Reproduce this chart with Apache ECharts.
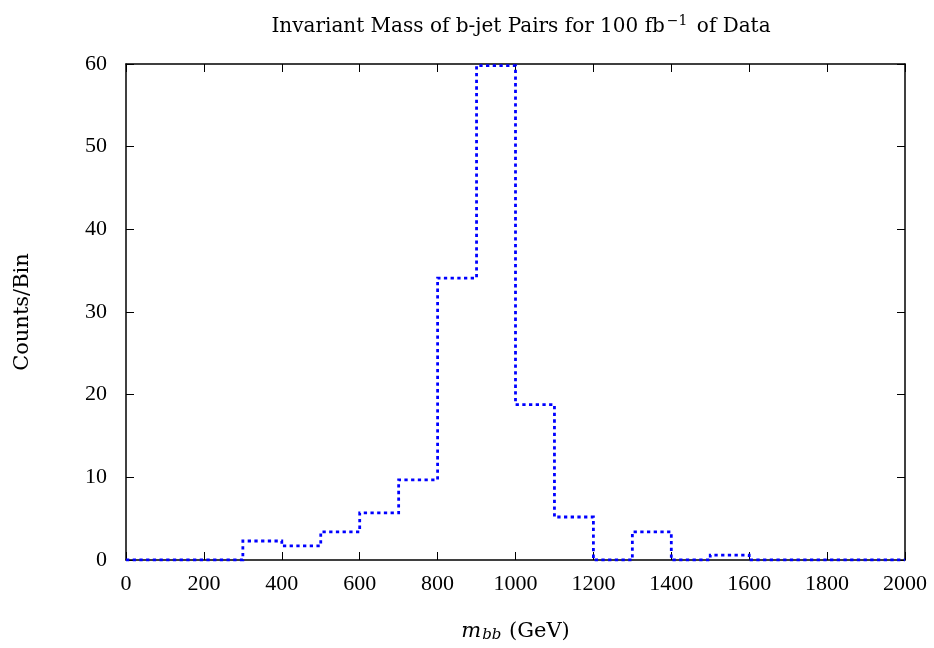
<!DOCTYPE html>
<html>
<head>
<meta charset="utf-8">
<script src="https://cdn.jsdelivr.net/npm/echarts@6/dist/echarts.min.js"></script>
<style>
html,body{margin:0;padding:0;background:#fff;}
#chart{width:934px;height:648px;}
</style>
</head>
<body>
<div id="chart"></div>
<script>
// Histogram bin left edges (GeV)
var binStarts = [0,100,200,300,400,500,600,700,800,900,1000,1100,1200,1300,1400,1500,1600,1700,1800,1900];
var binEnd = 2000;
// Counts per bin
var counts = [0,0,0,2.3,1.7,3.4,5.7,9.7,34.1,59.8,18.8,5.2,0,3.4,0,0.6,0,0,0,0];
// Axis tick settings
var xTicks = {min:0, max:2000, interval:200};
var yTicks = {min:0, max:60, interval:10};

var stepData = binStarts.map(function(x,i){ return [x, counts[i]]; });
stepData.push([binEnd, counts[counts.length-1]]);

var NUMFONT = 'Liberation Serif';
var TXTFONT = 'DejaVu Serif';
var chart = echarts.init(document.getElementById('chart'), null, {renderer:'canvas'});
var axisLine = {show:true, onZero:false, lineStyle:{color:'#000', width:1.5}};
var tickStyle = {show:true, inside:true, length:8, lineStyle:{color:'#000', width:1}};
var plain = function(v){ return String(v); };
chart.setOption({
  animation:false,
  backgroundColor:'#fff',
  title:{
    left:516, top:8, textAlign:'center',
    text:'{a|Invariant Mass of b-jet Pairs for 100 fb}{s|−1}{a| of Data}',
    textStyle:{
      fontWeight:'normal',
      rich:{
        a:{fontFamily:TXTFONT, fontSize:20, fontWeight:'normal', color:'#000', lineHeight:28},
        s:{fontFamily:TXTFONT, fontSize:14, fontWeight:'normal', color:'#000', lineHeight:28, padding:[0,3,11,2]}
      }
    }
  },
  grid:{left:126, right:29, top:64, bottom:87, containLabel:false},
  xAxis:[{
    type:'value', min:xTicks.min, max:xTicks.max, interval:xTicks.interval,
    position:'bottom',
    axisLine:axisLine, axisTick:tickStyle, splitLine:{show:false},
    axisLabel:{fontFamily:NUMFONT, fontSize:22, color:'#000', margin:13, formatter:plain},
    name:'{i|m}{sub|bb}{a| (GeV)}', nameLocation:'middle', nameGap:60,
    nameTextStyle:{
      rich:{
        i:{fontFamily:TXTFONT, fontStyle:'italic', fontSize:21, color:'#000'},
        sub:{fontFamily:TXTFONT, fontStyle:'italic', fontSize:15, color:'#000', padding:[8,1,0,1]},
        a:{fontFamily:TXTFONT, fontSize:21, color:'#000'}
      }
    }
  },{
    type:'value', min:xTicks.min, max:xTicks.max, interval:xTicks.interval,
    position:'top',
    axisLine:axisLine, axisTick:tickStyle, axisLabel:{show:false}, splitLine:{show:false}
  }],
  yAxis:[{
    type:'value', min:yTicks.min, max:yTicks.max, interval:yTicks.interval,
    position:'left',
    axisLine:axisLine, axisTick:tickStyle, splitLine:{show:false},
    axisLabel:{fontFamily:NUMFONT, fontSize:22, color:'#000', margin:19, formatter:plain},
    name:'Counts/Bin', nameLocation:'middle', nameGap:93, nameRotate:90,
    nameTextStyle:{fontFamily:TXTFONT, fontSize:21, color:'#000'}
  },{
    type:'value', min:yTicks.min, max:yTicks.max, interval:yTicks.interval,
    position:'right',
    axisLine:axisLine, axisTick:tickStyle, axisLabel:{show:false}, splitLine:{show:false}
  }],
  series:[{
    type:'line', step:'end', data:stepData, xAxisIndex:0, yAxisIndex:0,
    showSymbol:false, symbol:'none', z:5,
    lineStyle:{color:'#0000ff', width:2.8, type:[3.3,3.4], cap:'butt', join:'miter'}
  }]
});
</script>
</body>
</html>
